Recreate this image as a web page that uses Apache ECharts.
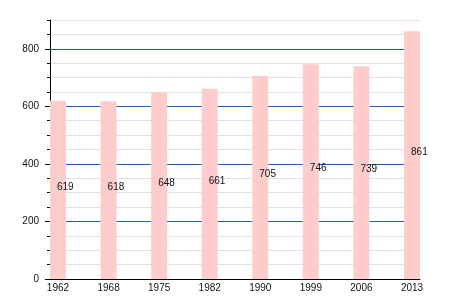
<!DOCTYPE html>
<html><head><meta charset="utf-8">
<script src="https://cdn.jsdelivr.net/npm/echarts@6/dist/echarts.min.js"></script>
<style>html,body{margin:0;padding:0;background:#fff}#c{width:450px;height:300px}</style>
</head><body><div id="c"></div>
<script>
const years = ['1962','1968','1975','1982','1990','1999','2006','2013'];
const population = [619, 618, 648, 661, 705, 746, 739, 861];
const majorTicks = [0, 200, 400, 600, 800];

const chart = echarts.init(document.getElementById('c'), null, {renderer:'canvas'});
const font = 'Liberation Sans, Arial, sans-serif';
chart.setOption({
  animation: false,
  grid: {left: 50, right: 30, top: 20, bottom: 21, containLabel: false},
  xAxis: {
    type: 'value', min: -0.158, max: 7.158,
    axisLine: {show: true, onZero: false, lineStyle: {color: '#000', width: 1}},
    axisTick: {show: false},
    splitLine: {show: false},
    axisLabel: {customValues: years.map((y, i) => i), formatter: v => years[Math.round(v)],
      fontSize: 10, fontFamily: font, color: '#111', margin: 4}
  },
  yAxis: [{
    type: 'value', min: 0, max: 900, interval: 50,
    axisLine: {show: true, onZero: false, lineStyle: {color: '#000'}},
    axisTick: {show: true, length: 3, lineStyle: {color: '#000'}},
    axisLabel: {customValues: majorTicks, fontSize: 10, fontFamily: font, color: '#111', margin: 11},
    splitLine: {show: true, lineStyle: {color: ['#1f5fae', '#e0e0e0', '#e0e0e0', '#e0e0e0'], width: 1}}
  }, {
    type: 'value', min: 0, max: 900, position: 'left', offset: 0,
    axisLine: {show: false, onZero: false},
    axisTick: {show: true, length: 5, customValues: majorTicks, lineStyle: {color: '#000'}},
    axisLabel: {show: false},
    splitLine: {show: false}
  }],
  series: [{
    type: 'bar', barWidth: 16,
    data: population.map((v, i) => [i, v]),
    itemStyle: {color: '#ffcccc'},
    label: {show: true, position: ['50%', '50%'], align: 'left', verticalAlign: 'middle',
      offset: [-1, -3], fontSize: 10, fontFamily: font, color: '#111',
      formatter: p => p.value[1]}
  }]
});
</script></body></html>
